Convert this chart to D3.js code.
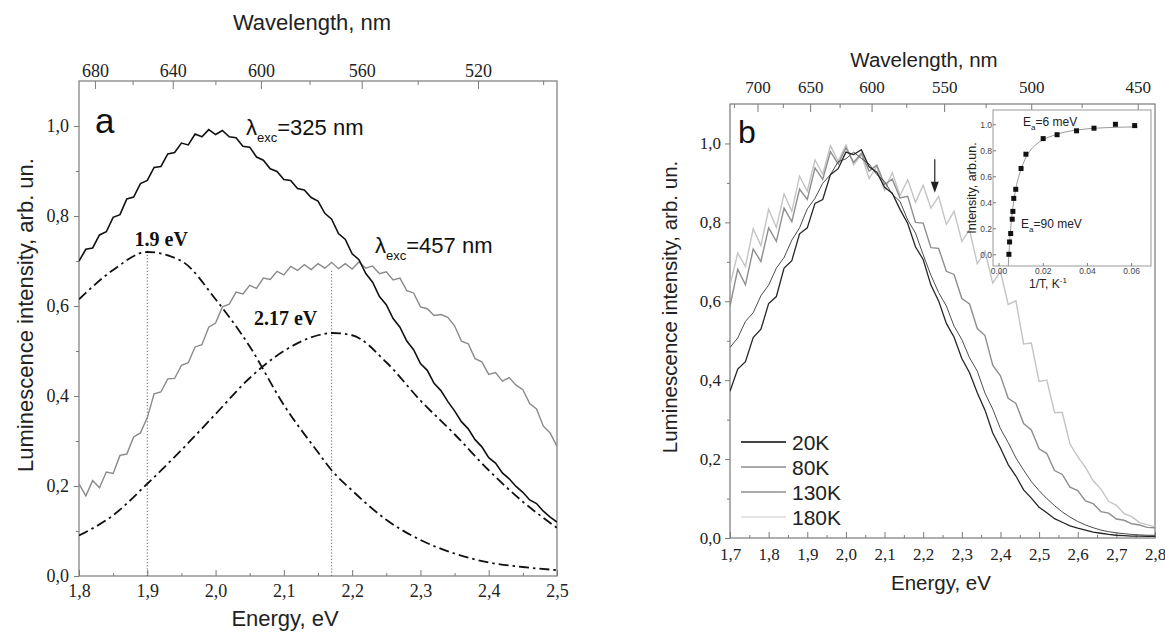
<!DOCTYPE html>
<html>
<head>
<meta charset="utf-8">
<script src="https://cdn.jsdelivr.net/npm/d3@7"></script>
<style>
  body { margin: 0; background: #fff; }
  svg { display: block; }
  .serifTick text { font-family: "Liberation Serif", "Times New Roman", serif; }
</style>
</head>
<body>
<svg id="chart" width="1165" height="632"></svg>
<script>
// ---------- panel a : spectra at two excitation wavelengths ----------
const energyStartA = 1.80, energyStepA = 0.01;
const lum325 = [0.700,0.726,0.729,0.758,0.765,0.797,0.803,0.838,0.842,0.872,
                0.879,0.908,0.910,0.938,0.941,0.962,0.958,0.982,0.976,0.992,
                0.981,0.990,0.976,0.974,0.955,0.953,0.931,0.924,0.905,0.899,
                0.881,0.879,0.861,0.858,0.841,0.833,0.806,0.793,0.761,0.748,
                0.716,0.703,0.672,0.653,0.621,0.603,0.572,0.553,0.522,0.503,
                0.472,0.457,0.428,0.412,0.388,0.367,0.343,0.327,0.303,0.287,
                0.263,0.251,0.229,0.216,0.199,0.186,0.169,0.161,0.144,0.131,
                0.120];
const lum457 = [0.205,0.178,0.212,0.196,0.231,0.228,0.268,0.271,0.309,0.318,
                0.352,0.405,0.409,0.438,0.439,0.468,0.474,0.509,0.514,0.553,
                0.562,0.598,0.604,0.631,0.627,0.646,0.639,0.662,0.659,0.677,
                0.669,0.688,0.679,0.692,0.681,0.694,0.684,0.697,0.683,0.694,
                0.682,0.698,0.684,0.689,0.672,0.676,0.658,0.662,0.634,0.629,
                0.598,0.594,0.579,0.581,0.575,0.556,0.522,0.516,0.483,0.476,
                0.448,0.452,0.433,0.441,0.424,0.414,0.383,0.371,0.333,0.318,
                0.288];
// gaussian components (dash-dot)
const fitEnergyA = [1.80,1.85,1.90,1.95,2.00,2.05,2.10,2.15,2.17,2.20,2.25,2.30,2.35,2.40,2.45,2.50];
const band19  = [0.615,0.68,0.72,0.70,0.615,0.51,0.38,0.275,0.235,0.19,0.125,0.08,0.05,0.03,0.02,0.013];
const band217 = [0.09,0.135,0.205,0.28,0.36,0.44,0.50,0.535,0.54,0.535,0.475,0.39,0.315,0.235,0.165,0.107];
const peakEnergies = [1.9, 2.17];
const peakLineTops = [0.72, 0.68];
const peakLabels = ["1.9 eV", "2.17 eV"];

const energyTicksA = [1.8,1.9,2.0,2.1,2.2,2.3,2.4,2.5];
const energyMinorA = [1.85,1.95,2.05,2.15,2.25,2.35,2.45];
const wavelengthTicksA = [680,640,600,560,520];
const wavelengthMinorA = [660,620,580,540,500];

// ---------- panel b : temperature series ----------
const energyStartB = 1.70, energyStepB = 0.02;
const lum20K = [0.372,0.428,0.447,0.508,0.529,0.594,0.612,0.684,0.703,0.771,
                0.786,0.848,0.858,0.921,0.936,0.978,0.972,0.984,0.941,0.927,
                0.889,0.874,0.833,0.797,0.738,0.706,0.641,0.601,0.544,0.509,
                0.455,0.419,0.368,0.324,0.266,0.228,0.186,0.157,0.122,0.101,
                0.078,0.064,0.049,0.040,0.031,0.025,0.020,0.015,0.012,0.009,0.007,0.006,0.005,0.005,0.004,0.004];
const lum80K = [0.483,0.507,0.549,0.571,0.614,0.641,0.684,0.711,0.755,0.786,
                0.834,0.861,0.899,0.921,0.954,0.961,0.978,0.962,0.948,0.921,
                0.904,0.871,0.853,0.806,0.773,0.718,0.666,0.622,0.588,0.537,
                0.503,0.457,0.423,0.367,0.327,0.277,0.242,0.203,0.172,0.143,
                0.120,0.100,0.082,0.066,0.053,0.042,0.033,0.026,0.020,0.016,0.013,0.011,0.009,0.008,0.007,0.007];
const lum130K = [0.588,0.681,0.642,0.732,0.701,0.786,0.752,0.836,0.802,0.884,
                 0.858,0.938,0.909,0.979,0.948,0.989,0.952,0.975,0.930,0.945,
                 0.896,0.910,0.862,0.866,0.800,0.798,0.736,0.734,0.676,0.668,
                 0.607,0.593,0.531,0.513,0.438,0.411,0.354,0.341,0.290,0.274,
                 0.226,0.214,0.171,0.161,0.129,0.120,0.094,0.087,0.067,0.063,0.048,0.045,0.036,0.033,0.027,0.026];
const lum180K = [0.640,0.722,0.688,0.784,0.741,0.833,0.787,0.872,0.828,0.917,
                 0.879,0.958,0.922,0.994,0.955,0.996,0.946,0.972,0.911,0.942,
                 0.881,0.926,0.868,0.908,0.851,0.894,0.836,0.866,0.795,0.828,
                 0.752,0.781,0.695,0.727,0.646,0.676,0.592,0.601,0.492,0.494,
                 0.397,0.400,0.318,0.318,0.238,0.206,0.179,0.145,0.124,0.093,0.083,0.062,0.054,0.039,0.034,0.028];
const tempLabels = ["20K", "80K", "130K", "180K"];
const arrowEnergy = 2.23, arrowFrom = 0.96, arrowTo = 0.875;

const energyTicksB = [1.7,1.8,1.9,2.0,2.1,2.2,2.3,2.4,2.5,2.6,2.7,2.8];
const energyMinorB = [1.75,1.85,1.95,2.05,2.15,2.25,2.35,2.45,2.55,2.65,2.75];
const wavelengthTicksB = [700,650,600,550,500,450];
const wavelengthMinorB = [725,675,625,575,525,475];

const intensityTicks = [0,0.2,0.4,0.6,0.8,1.0];
const intensityMinor = [0.1,0.3,0.5,0.7,0.9];

// ---------- inset : intensity vs 1/T ----------
const invT   = [0.0047,0.0050,0.0055,0.0062,0.0065,0.0069,0.0078,0.0102,0.0124,0.0202,0.0265,0.0353,0.0432,0.0529,0.0616];
const relInt = [0.00,0.095,0.16,0.27,0.33,0.43,0.50,0.66,0.77,0.89,0.92,0.95,0.97,1.00,0.99];
const fitInvT = [0.0044,0.0047,0.005,0.0055,0.006,0.0065,0.007,0.008,0.009,0.010,0.012,0.014,0.017,0.020,0.025,0.030,0.035,0.040,0.050,0.063];
const fitInt  = [-0.09,-0.01,0.09,0.20,0.29,0.36,0.42,0.52,0.59,0.645,0.73,0.79,0.845,0.88,0.915,0.94,0.955,0.965,0.975,0.98];
const insetXTicks = [0,0.02,0.04,0.06];
const insetYTicks = [0,0.2,0.4,0.6,0.8,1.0];

const HC = 1239.84; // eV*nm
const serif = "Liberation Serif";
const sans = "Liberation Sans";
const axisColor = "#7a7a7a";

const svg = d3.select("#chart");
const comma = d => d3.format(".1f")(d).replace(".", ",");

function tidy(g, size, family, color) {
  g.select(".domain").remove();
  g.attr("font-family", family).attr("font-size", size);
  g.selectAll(".tick line").attr("stroke", axisColor);
  g.selectAll(".tick text")
    .attr("font-family", family).attr("font-size", size)
    .attr("fill", color || "#222");
}

function drawFrame(opt) {
  const g = svg.append("g");
  const x = d3.scaleLinear().domain(opt.xDomain).range([opt.left, opt.right]);
  const y = d3.scaleLinear().domain([0, 1.1]).range([opt.bottom, opt.top]);

  g.append("g").attr("class", "serifTick").attr("transform", `translate(0,${opt.bottom})`)
    .call(d3.axisBottom(x).tickValues(opt.eTicks).tickFormat(comma).tickSizeInner(-6).tickSizeOuter(0).tickPadding(opt.padB))
    .call(a => tidy(a, opt.tickFont, serif));
  g.append("g").attr("transform", `translate(0,${opt.bottom})`)
    .call(d3.axisBottom(x).tickValues(opt.eMinor).tickFormat("").tickSizeInner(-3).tickSizeOuter(0))
    .call(a => tidy(a, opt.tickFont, serif));

  g.append("g").attr("class", "serifTick").attr("transform", `translate(0,${opt.top})`)
    .call(d3.axisTop(x).tickValues(opt.wTicks.map(l => HC / l)).tickFormat(e => Math.round(HC / e))
      .tickSizeInner(-8).tickSizeOuter(0).tickPadding(opt.padT))
    .call(a => tidy(a, opt.tickFont, serif));
  g.append("g").attr("transform", `translate(0,${opt.top})`)
    .call(d3.axisTop(x).tickValues(opt.wMinor.map(l => HC / l)).tickFormat("").tickSizeInner(-4).tickSizeOuter(0))
    .call(a => tidy(a, opt.tickFont, serif));

  g.append("g").attr("class", "serifTick").attr("transform", `translate(${opt.left},0)`)
    .call(d3.axisLeft(y).tickValues(intensityTicks).tickFormat(comma).tickSizeInner(5).tickSizeOuter(0).tickPadding(opt.padL))
    .call(a => tidy(a, opt.tickFont, serif));
  g.append("g").attr("transform", `translate(${opt.left},0)`)
    .call(d3.axisLeft(y).tickValues(intensityMinor).tickFormat("").tickSizeInner(3).tickSizeOuter(0))
    .call(a => tidy(a, opt.tickFont, serif));

  g.append("rect").attr("x", opt.left).attr("y", opt.top)
    .attr("width", opt.right - opt.left).attr("height", opt.bottom - opt.top)
    .attr("fill", "none").attr("stroke", axisColor).attr("stroke-width", 1.2);

  g.append("text").attr("x", opt.wTitleX).attr("y", opt.wTitleY).attr("text-anchor", "middle")
    .attr("font-family", sans).attr("font-size", opt.titleFont).attr("fill", "#222").text("Wavelength, nm");
  g.append("text").attr("x", opt.eTitleX).attr("y", opt.eTitleY).attr("text-anchor", "middle")
    .attr("font-family", sans).attr("font-size", opt.titleFont).attr("fill", "#222").text("Energy, eV");
  g.append("text").attr("transform", `translate(${opt.yTitleX},${opt.yTitleY}) rotate(-90)`)
    .attr("text-anchor", "middle").attr("font-family", sans).attr("font-size", opt.titleFont)
    .attr("fill", "#222").text("Luminescence intensity, arb. un.");

  g.append("text").attr("x", opt.letterX).attr("y", opt.letterY)
    .attr("font-family", sans).attr("font-size", opt.letterFont).attr("fill", "#111").text(opt.letter);

  const clipId = "clip" + opt.letter;
  svg.append("clipPath").attr("id", clipId).append("rect")
    .attr("x", opt.left).attr("y", opt.top).attr("width", opt.right - opt.left).attr("height", opt.bottom - opt.top);
  const plot = g.append("g").attr("clip-path", `url(#${clipId})`);
  return { x, y, plot, g };
}

// ================= panel a =================
const A = drawFrame({
  xDomain: [1.8, 2.5], left: 79, right: 557, top: 81, bottom: 576,
  eTicks: energyTicksA, eMinor: energyMinorA, wTicks: wavelengthTicksA, wMinor: wavelengthMinorA,
  tickFont: 18, titleFont: 22, padB: 8, padT: 4, padL: 5,
  wTitleX: 312, wTitleY: 30, eTitleX: 285, eTitleY: 626, yTitleX: 33, yTitleY: 315,
  letter: "a", letterX: 95, letterY: 133, letterFont: 35
});

const lineA = d3.line().x((d, i) => A.x(energyStartA + i * energyStepA)).y(d => A.y(d));
const bandLine = d3.line().x((d, i) => A.x(fitEnergyA[i])).y(d => A.y(d)).curve(d3.curveMonotoneX);

// dotted markers
peakEnergies.forEach((e, i) => {
  A.plot.append("line").attr("x1", A.x(e)).attr("x2", A.x(e))
    .attr("y1", A.y(0)).attr("y2", A.y(peakLineTops[i]))
    .attr("stroke", "#666").attr("stroke-width", 1).attr("stroke-dasharray", "1.2,2");
});

A.plot.append("path").datum(lum457).attr("d", lineA)
  .attr("fill", "none").attr("stroke", "#8a8a8a").attr("stroke-width", 1.4);
[band19, band217].forEach(b => {
  A.plot.append("path").datum(b).attr("d", bandLine)
    .attr("fill", "none").attr("stroke", "#111").attr("stroke-width", 1.8)
    .attr("stroke-dasharray", "10,4,2.5,4");
});
A.plot.append("path").datum(lum325).attr("d", lineA)
  .attr("fill", "none").attr("stroke", "#111").attr("stroke-width", 1.6);

// peak labels
A.g.append("text").attr("x", A.x(peakEnergies[0]) + 14).attr("y", A.y(peakLineTops[0]) - 6)
  .attr("text-anchor", "middle").attr("font-family", serif).attr("font-weight", "bold")
  .attr("font-size", 20).attr("fill", "#111").text(peakLabels[0]);
A.g.append("text").attr("x", A.x(peakEnergies[1]) - 46).attr("y", A.y(band217[8]) - 8)
  .attr("text-anchor", "middle").attr("font-family", serif).attr("font-weight", "bold")
  .attr("font-size", 20).attr("fill", "#111").text(peakLabels[1]);

function lambdaLabel(g, x, y, value) {
  const t = g.append("text").attr("x", x).attr("y", y).attr("font-family", sans)
    .attr("fill", "#111").attr("font-size", 22);
  t.append("tspan").text("λ");
  t.append("tspan").attr("font-size", 13).attr("dy", 7).text("exc");
  t.append("tspan").attr("dy", -7).text("=" + value + " nm");
}
lambdaLabel(A.g, 246, 135, 325);
lambdaLabel(A.g, 375, 253, 457);

// ================= panel b =================
const B = drawFrame({
  xDomain: [1.7, 2.8], left: 730, right: 1155, top: 104, bottom: 538,
  eTicks: energyTicksB, eMinor: energyMinorB, wTicks: wavelengthTicksB, wMinor: wavelengthMinorB,
  tickFont: 17, titleFont: 20.5, padB: 10, padT: 11, padL: 4,
  wTitleX: 924, wTitleY: 67, eTitleX: 941, eTitleY: 590, yTitleX: 677, yTitleY: 307,
  letter: "b", letterX: 738, letterY: 143, letterFont: 32
});

const lineB = d3.line().x((d, i) => B.x(energyStartB + i * energyStepB)).y(d => B.y(d));
const seriesB = [lum20K, lum80K, lum130K, lum180K];
const colorsB = ["#262626", "#4d4d4d", "#8e8e8e", "#c4c4c4"];
const widthsB = [1.3, 1.0, 1.4, 1.4];
for (let i = seriesB.length - 1; i >= 0; i--) {
  B.plot.append("path").datum(seriesB[i]).attr("d", lineB)
    .attr("fill", "none").attr("stroke", colorsB[i]).attr("stroke-width", widthsB[i]);
}

// arrow
const ax = B.x(arrowEnergy);
B.g.append("line").attr("x1", ax).attr("x2", ax).attr("y1", B.y(arrowFrom)).attr("y2", B.y(arrowTo) - 8)
  .attr("stroke", "#222").attr("stroke-width", 1.2);
B.g.append("path")
  .attr("d", `M${ax - 4},${B.y(arrowTo) - 11}L${ax + 4},${B.y(arrowTo) - 11}L${ax},${B.y(arrowTo)}Z`)
  .attr("fill", "#222");

// legend
const legendLineWidths = [2.2, 1.2, 2.2, 1.2];
const legendColors = ["#444", "#555", "#aaa", "#ccc"];
tempLabels.forEach((lab, i) => {
  const ly = 442 + i * 25;
  B.g.append("line").attr("x1", 741).attr("x2", 786).attr("y1", ly).attr("y2", ly)
    .attr("stroke", legendColors[i]).attr("stroke-width", legendLineWidths[i]);
  B.g.append("text").attr("x", 792).attr("y", ly + 7.5).attr("font-family", sans)
    .attr("font-size", 21).attr("fill", "#222").text(lab);
});

// ================= inset =================
const inset = { left: 993, right: 1151, top: 110, bottom: 266 };
const xi = d3.scaleLinear().domain([-0.0025, 0.069]).range([inset.left, inset.right]);
const yi = d3.scaleLinear().domain([-0.09, 1.11]).range([inset.bottom, inset.top]);
const gi = svg.append("g");
gi.append("rect").attr("x", inset.left).attr("y", inset.top)
  .attr("width", inset.right - inset.left).attr("height", inset.bottom - inset.top)
  .attr("fill", "#fff").attr("stroke", "#999").attr("stroke-width", 1);
gi.append("g").attr("transform", `translate(0,${inset.bottom})`)
  .call(d3.axisBottom(xi).tickValues(insetXTicks).tickFormat(d3.format(".2f")).tickSizeInner(-3).tickSizeOuter(0).tickPadding(2))
  .call(a => tidy(a, 8.5, sans, "#444"));
gi.append("g").attr("transform", `translate(${inset.left},0)`)
  .call(d3.axisLeft(yi).tickValues(insetYTicks).tickFormat(d3.format(".1f")).tickSizeInner(-3).tickSizeOuter(0).tickPadding(1))
  .call(a => tidy(a, 8.5, sans, "#444"));

gi.append("path").datum(fitInt)
  .attr("d", d3.line().x((d, i) => xi(fitInvT[i])).y(d => yi(d)).curve(d3.curveMonotoneX))
  .attr("fill", "none").attr("stroke", "#999").attr("stroke-width", 1);
gi.selectAll("rect.pt").data(relInt).join("rect").attr("class", "pt")
  .attr("x", (d, i) => xi(invT[i]) - 2.5).attr("y", d => yi(d) - 2.5)
  .attr("width", 5).attr("height", 5).attr("fill", "#111");

function eaLabel(x, y, value) {
  const t = gi.append("text").attr("x", x).attr("y", y).attr("font-family", sans)
    .attr("font-size", 12).attr("fill", "#222");
  t.append("tspan").text("E");
  t.append("tspan").attr("font-size", 8).attr("dy", 4).text("a");
  t.append("tspan").attr("dy", -4).text("=" + value + " meV");
}
eaLabel(1023, 126, 6);
eaLabel(1021, 228, 90);

gi.append("text").attr("transform", `translate(976,188) rotate(-90)`).attr("text-anchor", "middle")
  .attr("font-family", sans).attr("font-size", 12.5).attr("fill", "#222").text("Intensity, arb.un.");
const tt = gi.append("text").attr("x", 1048).attr("y", 288).attr("text-anchor", "middle")
  .attr("font-family", sans).attr("font-size", 12).attr("fill", "#222");
tt.append("tspan").text("1/T, K");
tt.append("tspan").attr("font-size", 8).attr("dy", -5).text("-1");
</script>
</body>
</html>
